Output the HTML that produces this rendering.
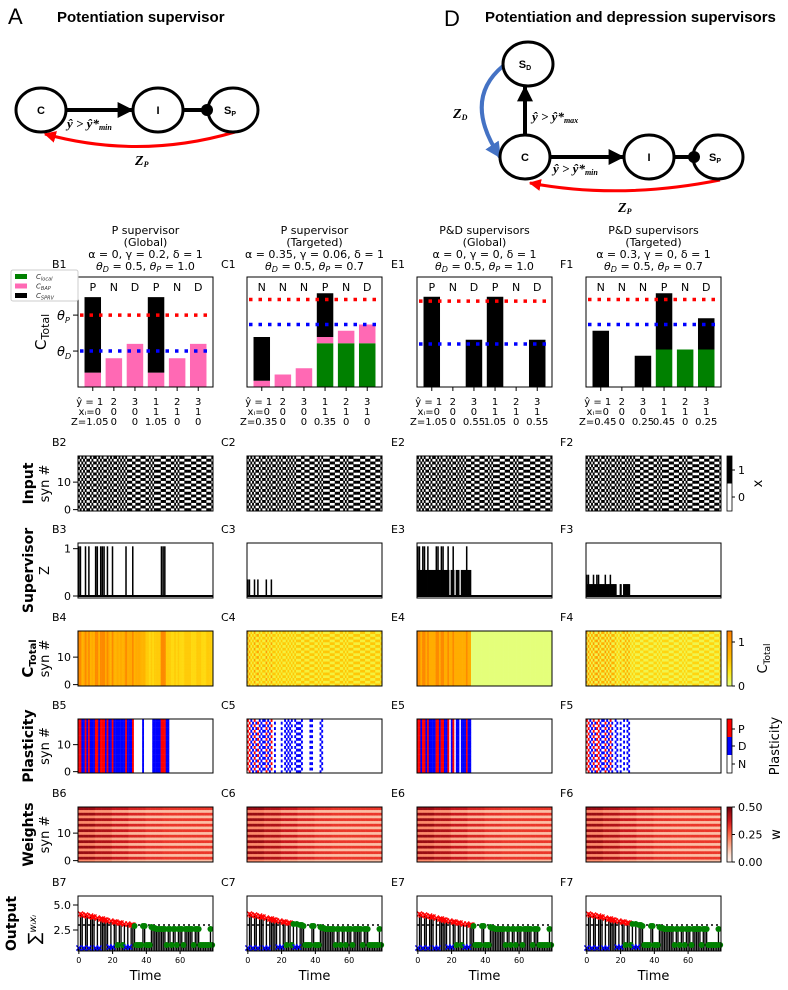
<!DOCTYPE html>
<html><head><meta charset="utf-8">
<style>
html,body{margin:0;padding:0;background:#fff;}
svg{display:block;font-family:"DejaVu Sans","Liberation Sans",sans-serif;}
</style></head>
<body>
<svg id="fig" width="788" height="990" viewBox="0 0 788 990" xmlns="http://www.w3.org/2000/svg"></svg>
<script>
// ---------------- DATA ----------------
const T = 80;
const inputPhase = [0,1,0,1,0,1,1,0,1,0,0,1,0,1,0,1,1,0,1,0,1,0,0,1,0,1,0,1,0,1,1,1,0,0,1,1,1,0,0,0,1,1,0,1,0,1,1,1,1,0,0,0,1,1,1,0,0,1,0,1,0,0,0,1,1,1,1,0,0,0,1,1,1,0,0,0,1,1,1,0];
// supervisor
const supB_times = [0,1,4,6,10,11,13,14,15,17,20,28,32,49,50,51];
const supB_value = 1.05;
const supC_times = [0,1,4,6,11,14];
const supC_value = 0.35;
const supE_hiTimes = [0,1,3,4,6,11,12,14,15,18,21,29];
const supE_loTimes = [0,1,2,3,4,5,6,7,8,9,10,11,12,13,14,15,16,17,18,20,21,23,24,26,27,28,29,30,31];
const supE_hi = 1.05, supE_lo = 0.55;
const supF_hiTimes = [0,1,4,6,7,11,14];
const supF_loTimes = [0,1,2,3,4,5,6,7,8,9,10,11,12,13,14,15,16,17,20,22,23,24,25];
const supF_hi = 0.45, supF_lo = 0.25;
// plasticity
const plastB_end = 53;
const plastB_gaps = [33,34,35,36,37,39,40,41,42,43];
const plastE_end = 31;
const plastE_gaps = [19,22,25];
const plastC_active = [0,1,2,3,4,5,6,7,8,9,10,11,12,13,14,16,20,22,23,24,25,26,28,29,30,31,32,37,38,43,44];
const plastF_active = [0,1,2,3,4,5,6,7,8,9,10,11,12,13,14,15,17,18,20,22,24,25];
// weights (per 10-step block)
const wOdd  = [0.45,0.42,0.38,0.35,0.33,0.32,0.32,0.32];
const wEven = [0.20,0.18,0.15,0.13,0.12,0.12,0.12,0.12];
// output
const outVals = [0.7,4.1,4.0,0.7,4.0,3.9,0.7,3.9,3.8,3.8,0.7,3.7,0.7,3.6,3.6,3.5,3.5,3.4,0.8,3.4,0.8,3.3,3.3,1.0,3.2,3.2,1.0,3.1,0.8,3.1,0.8,3.0,3.0,2.9,1.0,1.0,1.0,1.0,2.9,2.9,1.0,1.0,1.0,2.8,2.7,2.7,2.6,2.6,2.6,2.6,2.6,2.6,1.0,2.6,2.6,1.0,2.6,2.6,1.0,2.6,2.6,2.6,1.0,2.6,2.6,2.6,2.6,2.6,1.0,2.6,2.6,2.6,1.0,1.0,1.0,1.0,1.0,1.0,2.6,1.0];
const outConv = [33,27,33,27];
// bar panels
const barLetters = [["P","N","D","P","N","D"],["N","N","N","P","N","D"],["P","N","D","P","N","D"],["N","N","N","P","N","D"]];
const barLocal = [[0,0,0,0,0,0],[0,0,0,0.35,0.35,0.35],[0,0,0,0,0,0],[0,0,0,0.3,0.3,0.3]];
const barBap   = [[0.2,0.4,0.6,0.2,0.4,0.6],[0.05,0.1,0.15,0.05,0.1,0.15],[0,0,0,0,0,0],[0,0,0,0,0,0]];
const barSprv  = [[1.05,0,0,1.05,0,0],[0.35,0,0,0.35,0,0],[1.05,0,0.55,1.05,0,0.55],[0.45,0,0.25,0.45,0,0.25]];
const yhatLabels = [1,2,3,1,2,3];
const xiLabels = [0,0,0,1,1,1];
const barYMax = [1.53,0.88,1.28,0.88];
const thetaD = [0.5,0.5,0.5,0.5];
const thetaP = [1.0,0.7,1.0,0.7];
const titles = [
 ["P supervisor","(Global)","α = 0, γ = 0.2, δ = 1","θD0.5|θP1.0"],
 ["P supervisor","(Targeted)","α = 0.35, γ = 0.06, δ = 1","θD0.5|θP0.7"],
 ["P&D supervisors","(Global)","α = 0, γ = 0, δ = 1","θD0.5|θP1.0"],
 ["P&D supervisors","(Targeted)","α = 0.3, γ = 0, δ = 1","θD0.5|θP0.7"]];
const colLetters = ["B","C","E","F"];

// ---------------- LAYOUT ----------------
const NS='http://www.w3.org/2000/svg';
const svg=document.getElementById('fig');
function mk(tag,attrs,parent){const e=document.createElementNS(NS,tag);for(const k in attrs)e.setAttribute(k,attrs[k]);(parent||svg).appendChild(e);return e;}
function txt(x,y,s,attrs,parent){const e=mk('text',Object.assign({x:x,y:y},attrs||{}),parent);e.textContent=s;return e;}
const X0=[78,247,417,586], W=135;
const rows={r2:[456,511],r3:[543,598],r4:[631,686],r5:[719,773],r6:[807,862],r7:[896,951]};
const cw=W/T;
function xT(c,t){return X0[c]+(t+0.5)*cw;}
function xCell(c,t){return X0[c]+t*cw;}
function xOfTime(c,v){return X0[c]+(v+0.5)*cw;}

function lerpHex(stops,f){f=Math.max(0,Math.min(1,f));const n=stops.length-1;const i=Math.min(n-1,Math.floor(f*n));const g=f*n-i;
 const a=stops[i],b=stops[i+1];const p=h=>[parseInt(h.substr(1,2),16),parseInt(h.substr(3,2),16),parseInt(h.substr(5,2),16)];
 const A=p(a),B=p(b);return 'rgb('+A.map((v,k)=>Math.round(v+(B[k]-v)*g)).join(',')+')';}
const wistia=['#e4ff7a','#ffe81a','#ffbd00','#ffa000','#fc7f00'];
const reds=['#fff5f0','#fee0d2','#fcbba1','#fc9272','#fb6a4a','#ef3b2c','#cb181d','#a50f15','#67000d'];
function ctColor(v){return lerpHex(wistia,v/1.25);}
function wColor(v){return lerpHex(reds,v/0.5);}

function inputX(s,t){return (s+inputPhase[t])%2;}
function supAt(c,t){
 if(c===0) return supB_times.includes(t)?supB_value:0;
 if(c===1) return supC_times.includes(t)?supC_value:0;
 if(c===2) return supE_hiTimes.includes(t)?supE_hi:(supE_loTimes.includes(t)?supE_lo:0);
 return supF_hiTimes.includes(t)?supF_hi:(supF_loTimes.includes(t)?supF_lo:0);
}
function ctotal(c,s,t){
 const x=inputX(s,t), z=supAt(c,t);
 if(c===0) return z>0.9?1.15:((t<40?0.72:0.42)+(inputPhase[t]?0.1:0));
 if(c===1) return 0.2+0.35*x+(z>0?0.4*x:0);
 if(c===2) return t<=31?(z>0.9?1.15:0.8):0.0;
 return 0.15+0.3*x+z*x*1.2;
}
function plast(c,s,t){
 const x=inputX(s,t), z=supAt(c,t);
 if(c===0){ if(t>plastB_end||plastB_gaps.includes(t)) return 'N'; return z>0?'P':'D'; }
 if(c===2){ if(t>plastE_end||plastE_gaps.includes(t)) return 'N'; return z>0.9?'P':'D'; }
 const act = c===1?plastC_active:plastF_active;
 if(!act.includes(t)||!x) return 'N';
 const hi = c===1? z>0 : z>0.4;
 return hi?'P':'D';
}
const plastCol={N:'#ffffff',D:'#0000ff',P:'#ff0000'};
function weight(s,t){const b=Math.min(7,Math.floor(t/10));return s%2?wOdd[b]:wEven[b];}

function frame(c,top,bot,name){const r=mk('rect',{x:X0[c],y:top,width:W,height:bot-top,fill:'none',stroke:'#000','stroke-width':1});
 
 }
function plabel(c,top,s){const e=txt(X0[c]-26,top,s,{'font-size':11});
 
 }
function ytick(y,s){mk('line',{x1:73,x2:78,y1:y,y2:y,stroke:'#000'});const e=txt(71,y+4,s,{'font-size':11,'text-anchor':'end'});
 
 }

// ---------------- TOP DIAGRAMS ----------------
const defs=mk('defs',{});
const mkA=mk('marker',{id:'ah',viewBox:'0 0 10 10',refX:9,refY:5,markerWidth:4,markerHeight:4,orient:'auto'},defs);mk('path',{d:'M0,0L10,5L0,10z',fill:'#000'},mkA);
const mkR=mk('marker',{id:'ahr',viewBox:'0 0 10 10',refX:9,refY:5,markerWidth:4,markerHeight:4,orient:'auto'},defs);mk('path',{d:'M0,0L10,5L0,10z',fill:'#f00'},mkR);
const mkB=mk('marker',{id:'ahb',viewBox:'0 0 10 10',refX:9,refY:5,markerWidth:4,markerHeight:4,orient:'auto'},defs);mk('path',{d:'M0,0L10,5L0,10z',fill:'#4472c4'},mkB);
function node(cx,cy,label,sub,name){const g=mk('g',{});
 mk('ellipse',{cx:cx,cy:cy,rx:25,ry:22,fill:'#fff',stroke:'#000','stroke-width':3},g);
 const t=txt(cx-(sub?3:0),cy+4,label,{'font-size':11,'text-anchor':'middle','font-family':'Liberation Sans, sans-serif','font-weight':'bold'},g);
 if(sub){const ts=mk('tspan',{'font-size':7,dy:2},t);ts.textContent=sub;}}
let e;
e=txt(8,24,'A',{'font-size':22,'font-family':'Liberation Sans, sans-serif'});
e=txt(57,22,'Potentiation supervisor',{'font-size':15,'font-weight':'bold','font-family':'Liberation Sans, sans-serif'});
mk('line',{x1:67,y1:110,x2:132,y2:110,stroke:'#000','stroke-width':4,'marker-end':'url(#ah)'});
mk('line',{x1:183,y1:110,x2:208,y2:110,stroke:'#000','stroke-width':4});
mk('path',{d:'M235,132 Q140,160 45,134',fill:'none',stroke:'#f00','stroke-width':3,'marker-end':'url(#ahr)'});
node(41,110,'C','', 'node-c-a');node(158,110,'I','','node-i-a');node(233,110,'S','P','node-sp-a');
mk('circle',{cx:207,cy:110,r:6,fill:'#000'});
e=txt(67,128,'ŷ > ŷ*',{'font-size':13,'font-style':'italic','font-weight':'bold','font-family':'Liberation Serif, serif'});
let tsp=mk('tspan',{'font-size':8,dy:2},e);tsp.textContent='min';

e=txt(135,165,'Z',{'font-size':14,'font-style':'italic','font-weight':'bold','font-family':'Liberation Serif, serif'});
tsp=mk('tspan',{'font-size':8,dy:2},e);tsp.textContent='P';

e=txt(444,26,'D',{'font-size':22,'font-family':'Liberation Sans, sans-serif'});
e=txt(485,22,'Potentiation and depression  supervisors',{'font-size':15,'font-weight':'bold','font-family':'Liberation Sans, sans-serif'});
mk('line',{x1:525,y1:135,x2:525,y2:87,stroke:'#000','stroke-width':4,'marker-end':'url(#ah)'});
mk('line',{x1:551,y1:157,x2:623,y2:157,stroke:'#000','stroke-width':4,'marker-end':'url(#ah)'});
mk('line',{x1:674,y1:157,x2:694,y2:157,stroke:'#000','stroke-width':4});
mk('path',{d:'M503,66 Q462,100 500,157',fill:'none',stroke:'#4472c4','stroke-width':4,'marker-end':'url(#ahb)'});
mk('path',{d:'M720,180 Q620,200 530,183',fill:'none',stroke:'#f00','stroke-width':3,'marker-end':'url(#ahr)'});
node(528,64,'S','D','node-sd-d');node(525,157,'C','','node-c-d');node(649,157,'I','','node-i-d');node(718,157,'S','P','node-sp-d');
mk('circle',{cx:694,cy:157,r:6,fill:'#000'});
e=txt(532,121,'ŷ > ŷ*',{'font-size':13,'font-style':'italic','font-weight':'bold','font-family':'Liberation Serif, serif'});
tsp=mk('tspan',{'font-size':8,dy:2},e);tsp.textContent='max';
e=txt(553,173,'ŷ > ŷ*',{'font-size':13,'font-style':'italic','font-weight':'bold','font-family':'Liberation Serif, serif'});
tsp=mk('tspan',{'font-size':8,dy:2},e);tsp.textContent='min';
e=txt(453,118,'Z',{'font-size':14,'font-style':'italic','font-weight':'bold','font-family':'Liberation Serif, serif'});
tsp=mk('tspan',{'font-size':8,dy:2},e);tsp.textContent='D';
e=txt(618,212,'Z',{'font-size':14,'font-style':'italic','font-weight':'bold','font-family':'Liberation Serif, serif'});
tsp=mk('tspan',{'font-size':8,dy:2},e);tsp.textContent='P';

// ---------------- BAR PANELS ----------------
const bTop=277,bBot=387;
for(let c=0;c<4;c++){
 const yS=v=>bBot-v/barYMax[c]*(bBot-bTop);
 const xB=i=>X0[c]+(i+0.7)/6.4*W;
 const cx=X0[c]+W/2;
 for(let l=0;l<3;l++){const t=txt(cx,234+l*12,titles[c][l],{'font-size':11,'text-anchor':'middle'});
  }
 const th=titles[c][3].split('|');
 const t4=txt(cx,270,'',{'font-size':11,'text-anchor':'middle'});
 
 [['θ','D',' = '+th[0].slice(2)+', '],['θ','P',' = '+th[1].slice(2)]].forEach(p=>{
  let a=mk('tspan',{'font-style':'italic'},t4);a.textContent=p[0];
  a=mk('tspan',{'font-size':8,'font-style':'italic',dy:2},t4);a.textContent=p[1];
  a=mk('tspan',{dy:-2},t4);a.textContent=p[2];});
 plabel(c,268,colLetters[c]+'1');
 for(let i=0;i<6;i++){
  const bw=16.5, x=xB(i)-bw/2;
  let base=0;
  [[barLocal[c][i],'#008000','c-local'],[barBap[c][i],'#ff69b4','c-bap'],[barSprv[c][i],'#000000','c-sprv']].forEach(seg=>{
   if(seg[0]>0){const r=mk('rect',{x:x,y:yS(base+seg[0]),width:bw,height:yS(base)-yS(base+seg[0]),fill:seg[1]});
    
    
    base+=seg[0];}
  });
  const lt=txt(xB(i),291,barLetters[c][i],{'font-size':11,'text-anchor':'middle'});
  
  mk('line',{x1:xB(i),x2:xB(i),y1:bBot,y2:bBot+4,stroke:'#000'});
  const l1=txt(xB(i)+(i===0?-3:0),405,i===0?'ŷ = '+yhatLabels[i]:String(yhatLabels[i]),{'font-size':10,'text-anchor':'middle'});
  
  const l2=txt(xB(i)+(i===0?-3:0),415,i===0?'xᵢ=0':String(xiLabels[i]),{'font-size':10,'text-anchor':'middle'});
  
  const l3=txt(xB(i)+(i===0?-3:0),425,i===0?'Z='+barSprv[c][i]:String(barSprv[c][i]),{'font-size':10,'text-anchor':'middle'});
  
 }
 const ld=mk('line',{x1:X0[c]+2,x2:X0[c]+W,y1:yS(thetaD[c]),y2:yS(thetaD[c]),stroke:'#0000ff','stroke-width':3.5,'stroke-dasharray':'3.5,6'});
 
 const lp=mk('line',{x1:X0[c]+2,x2:X0[c]+W,y1:yS(thetaP[c]),y2:yS(thetaP[c]),stroke:'#ff0000','stroke-width':3.5,'stroke-dasharray':'3.5,6'});
 
 frame(c,bTop,bBot,'bar-panel-frame');
 if(c===0){
  mk('line',{x1:73,x2:78,y1:yS(thetaP[0]),y2:yS(thetaP[0]),stroke:'#000'});
  mk('line',{x1:73,x2:78,y1:yS(thetaD[0]),y2:yS(thetaD[0]),stroke:'#000'});
  let a=txt(57,yS(thetaP[0])+5,'θ',{'font-size':13,'font-style':'italic'});let s=mk('tspan',{'font-size':8,dy:3},a);s.textContent='P';
  
  a=txt(57,yS(thetaD[0])+5,'θ',{'font-size':13,'font-style':'italic'});s=mk('tspan',{'font-size':8,dy:3},a);s.textContent='D';
  
  a=txt(0,0,'C',{'font-size':15,transform:'translate(46,350) rotate(-90)'});s=mk('tspan',{'font-size':11,dy:3},a);s.textContent='Total';
  
 }
}
// legend
const lg=mk('g',{});
mk('rect',{x:11,y:270,width:67,height:31,rx:2,fill:'#fff',stroke:'#ccc'},lg);
[['#008000','local'],['#ff69b4','BAP'],['#000000','SPRV']].forEach((p,i)=>{
 const gg=mk('g',{},lg);
 mk('rect',{x:15,y:274+i*9.5,width:12,height:5,fill:p[0]},gg);
 const t=txt(36,279+i*9.5,'C',{'font-size':7,'font-style':'italic','fill':'#333'},gg);const s=mk('tspan',{'font-size':5,dy:1.5},t);s.textContent=p[1];});

// ---------------- ROW LABELS ----------------
function rowLabel(top,bot,bold,second,name){const cy=(top+bot)/2;
 const a=txt(0,0,bold,{'font-size':14,'font-weight':'bold','text-anchor':'middle',transform:'translate(33,'+cy+') rotate(-90)'});
 
 if(second){const b=txt(0,0,second,{'font-size':13,'text-anchor':'middle',transform:'translate(49,'+cy+') rotate(-90)'});
  }
 return a;}
rowLabel(rows.r2[0],rows.r2[1],'Input','syn #','input');
rowLabel(rows.r3[0],rows.r3[1],'Supervisor','Z','supervisor');
{const cy=(rows.r4[0]+rows.r4[1])/2;const a=txt(0,0,'C',{'font-size':15,'font-weight':'bold','text-anchor':'middle',transform:'translate(33,'+cy+') rotate(-90)'});
 const s=mk('tspan',{'font-size':10,dy:3},a);s.textContent='Total';
 const b=txt(0,0,'syn #',{'font-size':13,'text-anchor':'middle',transform:'translate(49,'+cy+') rotate(-90)'});}
rowLabel(rows.r5[0],rows.r5[1],'Plasticity','syn #','plasticity');
rowLabel(rows.r6[0],rows.r6[1],'Weights','syn #','weights');
{const cy=(rows.r7[0]+rows.r7[1])/2;const a=txt(0,0,'Output',{'font-size':14,'font-weight':'bold','text-anchor':'middle',transform:'translate(16,'+cy+') rotate(-90)'});
 
 const b=txt(0,0,'∑',{'font-size':17,'text-anchor':'middle',transform:'translate(40,'+(cy+6)+') rotate(-90)'});
 const s=mk('tspan',{'font-size':10,'font-style':'italic',dy:-4},b);s.textContent='wᵢxᵢ';
 }

// ---------------- HEATMAP ROWS ----------------
function synY(top,bot,s){const h=(bot-top)/20;return bot-(s+1)*h;}
function synTicks(top,bot){const h=(bot-top)/20;ytick(bot-0.5*h,'0');ytick(bot-10.5*h,'10');}
for(let c=0;c<4;c++){
 const L=colLetters[c];
 let [top,bot]=rows.r2; const h2=(bot-top)/20;
 plabel(c,top-10,L+'2');
 for(let t=0;t<T;t++)for(let s=0;s<20;s++){if(inputX(s,t)){const r=mk('rect',{x:xCell(c,t),y:synY(top,bot,s),width:cw+0.2,height:h2+0.2,fill:'#000'});
  }}
 frame(c,top,bot,'input-frame');
 [top,bot]=rows.r3; plabel(c,top-10,L+'3');
 const yZ=v=>bot-2-v/1.12*(bot-top-2);
 mk('line',{x1:X0[c],x2:X0[c]+W,y1:yZ(0),y2:yZ(0),stroke:'#000','stroke-width':2});
 for(let t=0;t<T;t++){const z=supAt(c,t);if(z>0){const r=mk('rect',{x:xCell(c,t),y:yZ(z),width:cw*0.9,height:yZ(0)-yZ(z),fill:'#000'});
  
  if(c>=2){const lo=c===2?supE_loTimes:supF_loTimes;const lv=c===2?supE_lo:supF_lo;if(lo.includes(t)){const r2=mk('rect',{x:xCell(c,t),y:yZ(lv),width:cw+0.3,height:yZ(0)-yZ(lv),fill:'#000'});
   }}}}
 frame(c,top,bot,'supervisor-frame');
 if(c===0){ytick(yZ(0),'0');ytick(yZ(1),'1');}
 [top,bot]=rows.r4; plabel(c,top-10,L+'4');
 for(let t=0;t<T;t++)for(let s=0;s<20;s++){const r=mk('rect',{x:xCell(c,t),y:synY(top,bot,s),width:cw+0.3,height:h2+0.3,fill:ctColor(ctotal(c,s,t))});
  }
 frame(c,top,bot,'ctotal-frame');
 [top,bot]=rows.r5; const h5=(bot-top)/20; plabel(c,top-10,L+'5');
 for(let t=0;t<T;t++)for(let s=0;s<20;s++){const p=plast(c,s,t);if(p!=='N'){const r=mk('rect',{x:xCell(c,t),y:bot-(s+1)*h5,width:cw+0.2,height:h5+0.2,fill:plastCol[p]});
  }}
 frame(c,top,bot,'plasticity-frame');
 [top,bot]=rows.r6; const h6=(bot-top)/20; plabel(c,top-10,L+'6');
 for(let t=0;t<T;t++)for(let s=0;s<20;s++){const r=mk('rect',{x:xCell(c,t),y:bot-(s+1)*h6,width:cw+0.3,height:h6+0.3,fill:wColor(weight(s,t))});
  }
 frame(c,top,bot,'weights-frame');
 [top,bot]=rows.r7; plabel(c,top-10,L+'7');
 const yO=v=>bot-(v-0.4)/5.5*(bot-top);
 for(let t=0;t<T;t++){const v=outVals[t];const ln=mk('line',{x1:xT(c,t),x2:xT(c,t),y1:bot,y2:yO(v),stroke:'#000','stroke-width':cw*0.8});
  }
 const dl=mk('line',{x1:X0[c],x2:X0[c]+W,y1:yO(3.0),y2:yO(3.0),stroke:'#000','stroke-width':1.5,'stroke-dasharray':'2,3'});
 
 for(let t=0;t<T;t++){const v=outVals[t];const x=xT(c,t),y=yO(v);
  if(v<0.9||(v>2&&t<outConv[c])){const col=v<0.9?'#0000ff':'#ff0000';const m=mk('path',{d:'M'+(x-2.5)+','+(y-2.5)+'L'+(x+2.5)+','+(y+2.5)+'M'+(x-2.5)+','+(y+2.5)+'L'+(x+2.5)+','+(y-2.5),stroke:col,'stroke-width':1.3,fill:'none'});
   }
  else{const m=mk('circle',{cx:x,cy:y,r:3,fill:'#008000'});}}
 frame(c,top,bot,'output-frame');
 if(c===0){ytick(yO(2.5),'2.5');ytick(yO(5.0),'5.0');}
 [0,20,40,60].forEach(v=>{const x=xOfTime(c,v);mk('line',{x1:x,x2:x,y1:bot,y2:bot+3,stroke:'#000'});
  const tt=txt(x,bot+12,String(v),{'font-size':8,'text-anchor':'middle'});});
 const tl=txt(X0[c]+W/2,bot+29,'Time',{'font-size':13,'text-anchor':'middle'});
}
for(const k of ['r2','r4','r5','r6']){const [top,bot]=rows[k];synTicks(top,bot);}

// ---------------- COLORBARS ----------------
const cbx=727,cbw=5;
function cbTick(y,s){mk('line',{x1:cbx+cbw,x2:cbx+cbw+3,y1:y,y2:y,stroke:'#000'});const t=txt(cbx+cbw+6,y+4,s,{'font-size':11});
 }
function cbTitle(x,y,s,sub,name){const t=txt(0,0,s,{'font-size':13,'text-anchor':'middle',transform:'translate('+x+','+y+') rotate(-90)'});
 if(sub){const ts=mk('tspan',{'font-size':9,dy:3},t);ts.textContent=sub;}
 }
{let [top,bot]=rows.r2;const m=(top+bot)/2;
 mk('rect',{x:cbx,y:top,width:cbw,height:m-top,fill:'#000'});
 const r=mk('rect',{x:cbx,y:top,width:cbw,height:bot-top,fill:'none',stroke:'#000','stroke-width':0.8});
 cbTick(top+14,'1');cbTick(bot-14,'0');cbTitle(762,m,'x','','input-colorbar-title');}
{let [top,bot]=rows.r4;
 const lgd=mk('linearGradient',{id:'gW',x1:0,y1:1,x2:0,y2:0},defs);wistia.forEach((cc,i)=>mk('stop',{offset:i/(wistia.length-1),'stop-color':cc},lgd));
 const r=mk('rect',{x:cbx,y:top,width:cbw,height:bot-top,fill:'url(#gW)',stroke:'#000','stroke-width':0.8});
 cbTick(bot-(bot-top)/1.25,'1');cbTick(bot,'0');cbTitle(767,(top+bot)/2,'C','Total','ctotal-colorbar-title');}
{let [top,bot]=rows.r5;const h=(bot-top)/3;
 mk('rect',{x:cbx,y:top,width:cbw,height:h,fill:'#ff0000'});mk('rect',{x:cbx,y:top+h,width:cbw,height:h,fill:'#0000ff'});
 const r=mk('rect',{x:cbx,y:top,width:cbw,height:bot-top,fill:'none',stroke:'#000','stroke-width':0.8});
 cbTick(top+h/2+1,'P');cbTick(top+1.5*h,'D');cbTick(top+2.5*h,'N');cbTitle(779,(top+bot)/2,'Plasticity','','plasticity-colorbar-title');}
{let [top,bot]=rows.r6;
 const lgd=mk('linearGradient',{id:'gR',x1:0,y1:1,x2:0,y2:0},defs);reds.forEach((cc,i)=>mk('stop',{offset:i/(reds.length-1),'stop-color':cc},lgd));
 const r=mk('rect',{x:cbx,y:top,width:cbw,height:bot-top,fill:'url(#gR)',stroke:'#000','stroke-width':0.8});
 cbTick(top,'0.50');cbTick((top+bot)/2,'0.25');cbTick(bot,'0.00');cbTitle(780,(top+bot)/2,'w','','weights-colorbar-title');}
</script>
</body></html>
